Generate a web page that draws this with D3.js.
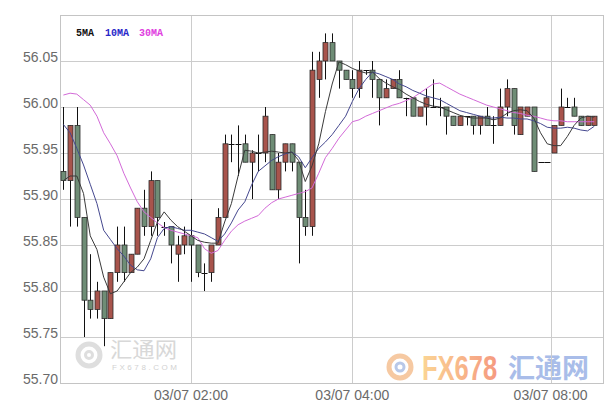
<!DOCTYPE html>
<html><head><meta charset="utf-8">
<script src="https://cdn.jsdelivr.net/npm/d3@7"></script>
<style>html,body{margin:0;padding:0;background:#fff;}svg{display:block;}</style>
</head><body>
<svg id="c" width="611" height="403"></svg>
<script>
// ---- data ----
const openV  = [55.93,55.92,55.98,55.88,55.79,55.78,55.80,55.77,55.82,55.85,55.82,55.84,55.89,55.87,55.92,55.87,55.87,55.84,55.85,55.86,
                55.85,55.82,55.82,55.85,55.88,55.96,55.96,55.96,55.94,55.95,55.95,55.97,55.91,55.94,55.96,55.94,55.88,55.87,56.03,56.05,
                56.07,56.05,56.04,56.03,56.02,56.04,56.04,56.03,56.01,56.02,56.03,56.01,56.01,55.99,56.00,56.00,56.00,56.00,55.99,55.98,
                55.99,55.99,55.98,55.99,55.98,55.98,56.00,56.02,55.97,55.99,56.00,55.94,55.94,55.95,55.98,56.00,56.00,55.99,55.98,55.98];
const highV  = [56.00,55.98,56.00,55.88,55.84,55.81,55.80,55.82,55.87,55.87,55.84,55.89,55.91,55.93,55.92,55.875,55.87,55.86,55.87,55.90,
                55.85,55.83,55.85,55.89,55.97,55.97,55.98,55.97,55.953,55.97,56.00,55.97,55.95,55.96,55.96,55.94,55.91,56.06,56.06,56.08,
                56.08,56.05,56.04,56.04,56.05,56.04,56.05,56.03,56.03,56.03,56.04,56.01,56.01,56.00,56.02,56.03,56.01,56.00,55.99,55.99,
                55.99,55.99,55.99,56.00,55.99,56.02,56.03,56.02,56.00,56.00,56.00,55.94,55.94,55.98,56.02,56.01,56.01,55.99,55.99,55.99];
const lowV   = [55.91,55.87,55.87,55.75,55.77,55.77,55.74,55.77,55.81,55.81,55.82,55.84,55.86,55.86,55.86,55.86,55.83,55.81,55.84,55.81,
                55.815,55.80,55.81,55.85,55.88,55.94,55.925,55.94,55.90,55.93,55.94,55.91,55.90,55.93,55.93,55.83,55.86,55.86,56.01,56.03,
                56.05,56.02,56.03,56.01,56.01,56.035,56.01,55.98,56.01,56.02,56.01,55.99,55.99,55.99,55.98,56.00,55.99,55.97,55.98,55.98,
                55.98,55.97,55.97,55.98,55.96,55.98,55.99,55.97,55.97,55.99,55.93,55.94,55.94,55.95,55.98,56.00,55.99,55.98,55.98,55.98];
const closeV = [55.92,55.98,55.88,55.79,55.78,55.80,55.77,55.82,55.85,55.82,55.84,55.89,55.87,55.92,55.88,55.87,55.85,55.85,55.86,55.85,
                55.82,55.82,55.85,55.88,55.96,55.96,55.96,55.94,55.95,55.95,55.99,55.91,55.94,55.96,55.94,55.88,55.87,56.04,56.05,56.07,
                56.05,56.04,56.03,56.02,56.04,56.04,56.03,56.01,56.02,56.03,56.01,56.01,55.99,56.00,56.01,56.00,56.00,55.99,55.98,55.99,
                55.99,55.98,55.99,55.98,55.98,56.00,56.02,55.98,56.00,56.00,55.93,55.94,55.94,55.98,56.00,56.00,55.99,55.98,55.99,55.99];
const ma5  = [55.920,55.925,55.925,55.906,55.860,55.845,55.815,55.797,55.800,55.810,55.820,55.826,55.835,55.855,55.875,55.886,55.877,55.870,55.865,55.860,
              55.855,55.853,55.852,55.852,55.875,55.895,55.925,55.953,55.952,55.950,55.951,55.952,55.951,55.950,55.951,55.942,55.919,55.936,55.960,55.995,
              56.025,56.049,56.046,56.042,56.039,56.037,56.038,56.031,56.026,56.022,56.019,56.014,56.010,56.006,56.003,56.001,56.000,55.997,55.994,55.991,
              55.989,55.988,55.988,55.988,55.986,55.988,55.993,55.996,55.997,55.996,55.988,55.972,55.960,55.958,55.958,55.968,55.980,55.988,55.990,55.989];
const ma10 = [55.981,55.972,55.955,55.937,55.916,55.895,55.866,55.856,55.846,55.838,55.828,55.823,55.822,55.835,55.858,55.868,55.870,55.868,55.866,55.866,
              55.864,55.862,55.858,55.854,55.862,55.874,55.888,55.897,55.915,55.930,55.936,55.942,55.946,55.949,55.951,55.946,55.934,55.945,55.955,55.962,
              55.970,55.980,55.990,56.006,56.020,56.030,56.038,56.036,56.033,56.030,56.025,56.022,56.018,56.015,56.012,56.010,56.008,56.004,56.000,55.996,
              55.994,55.992,55.990,55.988,55.988,55.989,55.988,55.988,55.987,55.987,55.985,55.982,55.978,55.977,55.977,55.978,55.977,55.975,55.974,55.979];
const ma30 = [56.013,56.015,56.014,56.008,56.002,55.990,55.972,55.960,55.947,55.928,55.912,55.897,55.886,55.880,55.874,55.869,55.866,55.864,55.862,55.860,
              55.858,55.846,55.841,55.844,55.855,55.865,55.872,55.876,55.879,55.882,55.890,55.896,55.900,55.902,55.904,55.906,55.908,55.912,55.928,55.945,
              55.955,55.966,55.975,55.984,55.986,55.990,55.993,55.996,55.999,56.002,56.004,56.007,56.010,56.015,56.020,56.025,56.026,56.022,56.018,56.014,
              56.011,56.008,56.005,56.002,56.000,55.998,55.996,55.994,55.993,55.991,55.990,55.988,55.986,55.985,55.985,55.984,55.984,55.984,55.984,55.984];
const yTicks = [56.05,56.00,55.95,55.90,55.85,55.80,55.75,55.70];
const xTickLabels = ["03/07 02:00","03/07 04:00","03/07 08:00"];
const xTickIndex  = [19,43,72.5];
const legendNames = ["5MA","10MA","30MA"];

// ---- drawing ----
const svg = d3.select("#c");
const L = 60, R = 603, T = 15, B = 383;
const n = closeV.length;
const x = d3.scaleLinear().domain([-0.5, 80.3]).range([L, R]);
const y = d3.scaleLinear().domain([55.70, 56.10]).range([B, T]);
const idx = d3.range(n);

// watermarks
const wm = svg.append("g");
wm.append("circle").attr("cx",89).attr("cy",355).attr("r",11).attr("fill","none").attr("stroke","#dedede").attr("stroke-width",5);
wm.append("circle").attr("cx",89).attr("cy",355).attr("r",3.5).attr("fill","none").attr("stroke","#dedede").attr("stroke-width",3);
wm.append("text").attr("x",110).attr("y",357).attr("font-family","Noto Sans CJK SC").attr("font-size",21)
  .attr("textLength",67).attr("lengthAdjust","spacingAndGlyphs").attr("fill","#d8d8d8").text("汇通网");
wm.append("text").attr("x",112).attr("y",370).attr("font-family","Liberation Sans").attr("font-size",8)
  .attr("textLength",65).attr("lengthAdjust","spacing").attr("fill","#d2d2d2").text("FX678.COM");
const defs = svg.append("defs");
const gr = defs.append("linearGradient").attr("id","fxg").attr("x1","0").attr("x2","1");
gr.append("stop").attr("offset","0").attr("stop-color","#fbd494");
gr.append("stop").attr("offset","1").attr("stop-color","#f59a80");
wm.append("circle").attr("cx",400).attr("cy",367).attr("r",11).attr("fill","none").attr("stroke","#f6c9a2").attr("stroke-width",5);
wm.append("circle").attr("cx",400).attr("cy",367).attr("r",4).attr("fill","none").attr("stroke","#b8c8e8").attr("stroke-width",3);
wm.append("text").attr("transform","translate(422,380) scale(1,1.35)").attr("font-family","Liberation Sans").attr("font-weight","bold")
  .attr("font-size",25.5).attr("fill","url(#fxg)").text("FX678");
wm.append("text").attr("x",508).attr("y",378).attr("font-family","Noto Sans CJK SC").attr("font-weight","bold").attr("font-size",27)
  .attr("fill","#a9bde9").text("汇通网");

// grid
const g = svg.append("g");
g.selectAll("line.h").data(yTicks).enter().append("line")
  .attr("x1",L).attr("x2",R).attr("y1",d=>y(d)+0.5).attr("y2",d=>y(d)+0.5)
  .attr("stroke","#cccccc").attr("stroke-width",1);
g.selectAll("line.v").data(xTickIndex).enter().append("line")
  .attr("x1",d=>Math.round(x(d))+0.5).attr("x2",d=>Math.round(x(d))+0.5).attr("y1",T).attr("y2",B)
  .attr("stroke","#cccccc").attr("stroke-width",1);
g.append("rect").attr("x",L+0.5).attr("y",T+0.5).attr("width",R-L).attr("height",B-T)
  .attr("fill","none").attr("stroke","#c4c4c4");

// axis labels
g.selectAll("text.y").data(yTicks).enter().append("text")
  .attr("x",L-2).attr("y",d=>y(d)+0.5).attr("text-anchor","end")
  .attr("font-family","Liberation Sans").attr("font-size",14).attr("fill","#6a6a6a")
  .text(d=>d3.format(".2f")(d));
g.selectAll("text.x").data(xTickIndex).enter().append("text")
  .attr("x",(d)=>x(d)).attr("y",400).attr("text-anchor","middle")
  .attr("font-family","Liberation Sans").attr("font-size",14).attr("fill","#6a6a6a")
  .text((d,i)=>xTickLabels[i]);

// candles
const cg = svg.append("g");
const bw = 5;
cg.selectAll("line.w").data(idx).enter().append("line")
  .attr("x1",i=>Math.round(x(i))+0.5).attr("x2",i=>Math.round(x(i))+0.5)
  .attr("y1",i=>y(highV[i])).attr("y2",i=>y(lowV[i]))
  .attr("stroke","#111").attr("stroke-width",1);
cg.selectAll("rect.b").data(idx.filter(i=>Math.abs(closeV[i]-openV[i])>0.0005)).enter().append("rect")
  .attr("x",i=>Math.round(x(i))-2).attr("width",bw)
  .attr("y",i=>y(Math.max(openV[i],closeV[i]))).attr("height",i=>Math.abs(y(openV[i])-y(closeV[i])))
  .attr("fill",i=>closeV[i]>openV[i]?"#a8544c":"#6f8d76")
  .attr("stroke","#2b2b2b").attr("stroke-width",0.8);
cg.selectAll("line.d").data(idx.filter(i=>Math.abs(closeV[i]-openV[i])<=0.0005)).enter().append("line")
  .attr("x1",i=>Math.round(x(i))-2.5).attr("x2",i=>Math.round(x(i))+3.5)
  .attr("y1",i=>Math.round(y(openV[i]))+0.5).attr("y2",i=>Math.round(y(openV[i]))+0.5)
  .attr("stroke","#111").attr("stroke-width",1);

// moving averages
const line = arr => d3.line().x(i=>x(i)).y(i=>y(arr[i]))(idx);
svg.append("path").attr("d",line(ma30)).attr("fill","none").attr("stroke","#d36ad8").attr("stroke-width",1);
svg.append("path").attr("d",line(ma10)).attr("fill","none").attr("stroke","#45488f").attr("stroke-width",1);
svg.append("path").attr("d",line(ma5)).attr("fill","none").attr("stroke","#3a3a3a").attr("stroke-width",1);

// legend
const legColors = ["#111111","#2828c8","#e040e0"];
const legX = [76,105,139];
svg.selectAll("text.lg").data(legendNames).enter().append("text")
  .attr("x",(d,i)=>legX[i]).attr("y",36).attr("font-family","Liberation Mono").attr("font-size",10)
  .attr("fill",(d,i)=>legColors[i]).attr("font-weight","bold").text(d=>d);
</script>
</body></html>
